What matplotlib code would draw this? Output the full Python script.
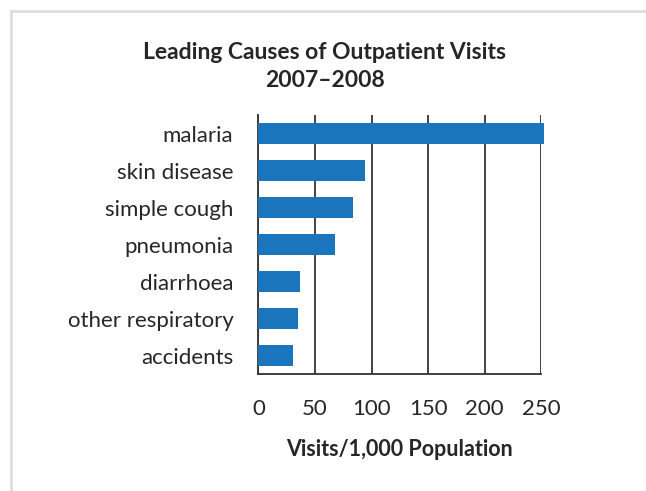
import matplotlib
matplotlib.use("Agg")
import matplotlib.pyplot as plt
from matplotlib.lines import Line2D

plt.rcParams['font.family'] = ['Lato', 'DejaVu Sans']

causes = ["malaria", "skin disease", "simple cough", "pneumonia",
          "diarrhoea", "other respiratory", "accidents"]
visits = [252, 94, 84, 68, 37, 35, 31]
xticks = [0, 50, 100, 150, 200, 250]

bar_color = "#1b75bc"
text_color = "#262626"

fig = plt.figure(figsize=(6.46, 4.91), dpi=100)
ax = fig.add_axes([0.400, 0.2377, 0.438, 0.528])

ypos = list(range(len(causes)))
bars = ax.barh(ypos, visits, height=0.56, color=bar_color, zorder=3)
for b in bars:
    b.set_clip_on(False)
ax.set_ylim(len(causes) - 0.5, -0.5)
ax.set_xlim(0, 250)
ax.set_yticks(ypos)
ax.set_yticklabels(causes, fontsize=16, color=text_color)
ax.set_xticks(xticks)
ax.set_xticklabels([str(t) for t in xticks], fontsize=16, color=text_color)
ax.tick_params(length=0)
ax.tick_params(axis='y', pad=18)
ax.tick_params(axis='x', pad=18)

ax.grid(axis='x', color="#333333", linewidth=1.3, zorder=1)
for side in ["top", "right"]:
    ax.spines[side].set_visible(False)
for side in ["left", "bottom"]:
    ax.spines[side].set_color("#333333")
    ax.spines[side].set_linewidth(1.3)

ax.set_xlabel("Visits/1,000 Population", fontsize=15.5, fontweight='bold',
              color=text_color, labelpad=14)

fig.text(0.503, 0.894, "Leading Causes of Outpatient Visits",
         ha='center', va='center', fontsize=16.5, fontweight='bold', color=text_color)
fig.text(0.503, 0.837, "2007\u20132008",
         ha='center', va='center', fontsize=16.5, fontweight='bold', color=text_color)

# light frame around the figure (top and left edges visible)
fig.add_artist(Line2D([11 / 646, 1], [1 - 11 / 491, 1 - 11 / 491],
                      transform=fig.transFigure, color="#dddddd", linewidth=2))
fig.add_artist(Line2D([11 / 646, 11 / 646], [0, 1 - 11 / 491],
                      transform=fig.transFigure, color="#dddddd", linewidth=2))

fig.savefig("out.png", dpi=100)
